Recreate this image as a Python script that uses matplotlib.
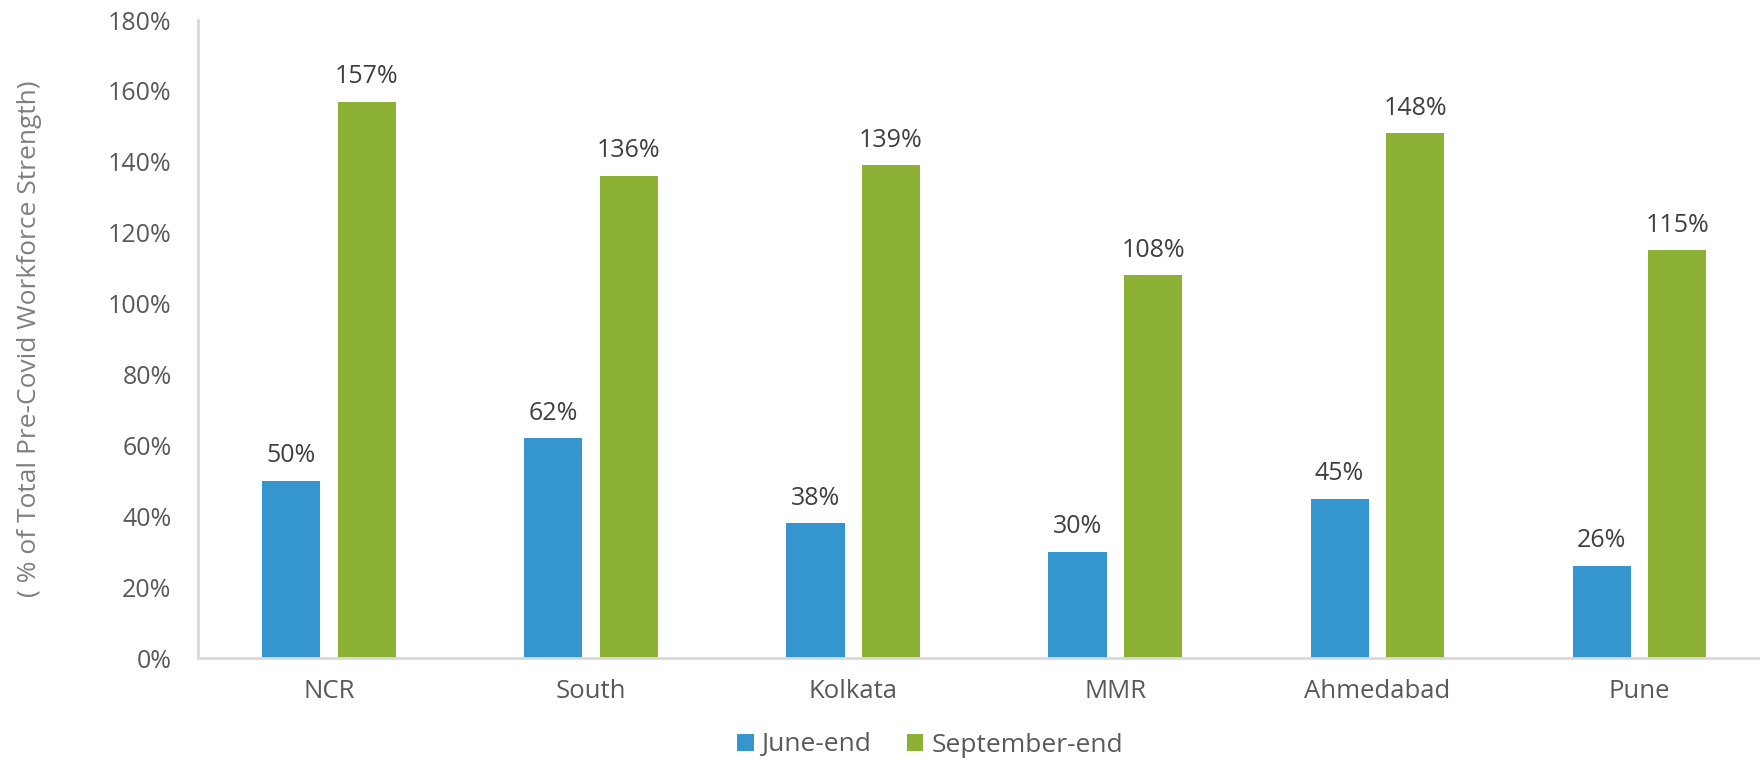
"""
Workforce strength by region: June-end vs September-end, grouped bar chart.
"""

import matplotlib
matplotlib.use("Agg")
import matplotlib.pyplot as plt
import numpy as np
from matplotlib.ticker import FuncFormatter

# ---------------------------------------------------------------------------
# Data
# ---------------------------------------------------------------------------
REGIONS = ["NCR", "South", "Kolkata", "MMR", "Ahmedabad", "Pune"]
JUNE_END = [50, 62, 38, 30, 45, 26]
SEPTEMBER_END = [157, 136, 139, 108, 148, 115]
SERIES_NAMES = ["June-end", "September-end"]

BLUE = "#3595cf"
GREEN = "#8db135"
TICK_GREY = "#595959"
LABEL_DARK = "#404040"

plt.rcParams["font.family"] = ["Open Sans", "DejaVu Sans"]

fig = plt.figure(figsize=(17.6, 7.59), dpi=100)
ax = fig.add_axes([198 / 1760, 1 - 658 / 759, 1 - 198 / 1760, (658 - 20) / 759])

x = np.arange(len(REGIONS))
width = 0.222
offset = 0.144

bars_j = ax.bar(x - offset, JUNE_END, width, color=BLUE, label=SERIES_NAMES[0])
bars_s = ax.bar(x + offset, SEPTEMBER_END, width, color=GREEN, label=SERIES_NAMES[1])

for bars in (bars_j, bars_s):
    for b in bars:
        h = b.get_height()
        ax.annotate(f"{h:.0f}%", (b.get_x() + b.get_width() / 2, h),
                    xytext=(0, 9), textcoords="offset points",
                    ha="center", va="bottom", fontsize=18, color=LABEL_DARK)

ax.set_ylim(0, 180)
ax.set_xlim(-0.5, 5.46)
ax.set_yticks(np.arange(0, 181, 20))
ax.yaxis.set_major_formatter(FuncFormatter(lambda v, _: f"{v:.0f}%"))
ax.set_xticks(x)
ax.set_xticklabels(REGIONS)
ax.tick_params(axis="both", length=0, colors=TICK_GREY)
ax.tick_params(axis="y", labelsize=18, pad=19)
ax.tick_params(axis="x", labelsize=18.5, pad=15)

for side in ("top", "right"):
    ax.spines[side].set_visible(False)
for side in ("left", "bottom"):
    ax.spines[side].set_color("#d9d9d9")
    ax.spines[side].set_linewidth(2)

fig.text(30 / 1760, 1 - 339 / 759, "( % of Total Pre-Covid Workforce Strength)",
         rotation=90, ha="center", va="center", fontsize=19, color="#7f7f7f")

fig.legend(loc="center", bbox_to_anchor=(930 / 1760, 1 - 745 / 759), ncol=2,
           frameon=False, fontsize=19, labelcolor=TICK_GREY,
           handlelength=0.62, handleheight=0.62, handletextpad=0.3,
           columnspacing=1.35, borderpad=0)

fig.savefig("out.png", dpi=100)
